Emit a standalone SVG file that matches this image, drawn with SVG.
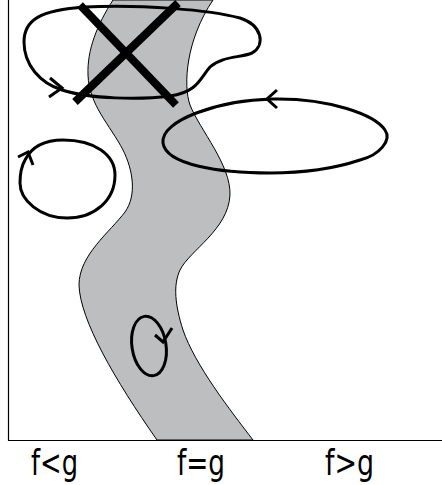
<svg xmlns="http://www.w3.org/2000/svg" width="442" height="485" viewBox="0 0 442 485">
<style>
.loop{fill:none;stroke:#000;stroke-width:3;stroke-linejoin:round;stroke-linecap:round}
.arr{fill:none;stroke:#000;stroke-width:3;stroke-linecap:butt}
.lbl{font-family:"DejaVu Sans","Liberation Sans",sans-serif;font-size:35px;fill:#000}
</style>
<rect width="442" height="485" fill="#fff"/>
<g id="band">
<path d="M113,0 C97,25 87,50 88,75 C89,105 110,125 123,150 C133,170 137,195 125,212 C110,232 79,255 79,285 C80,320 115,380 157,440 L253,440 C230,410 195,365 183,330 C175,305 173,285 180,270 C190,250 228,230 230,195 C231,165 200,130 190,105 C183,85 186,40 213,0 Z" fill="#bdbec0" stroke="#000" stroke-width="1"/>
</g>
<g id="axes" fill="none" stroke="#000" stroke-width="1.2">
<line x1="8.5" y1="0" x2="8.5" y2="440.5"/>
<line x1="8" y1="440.5" x2="442" y2="440.5"/>
</g>
<g id="connectors">
<g id="loop-top">
<path class="loop" d="M24,42 C24,20 40,10 85,7 C140,4 210,10 240,18 C262,25 266,45 252,53 C240,58 222,56 210,67 C200,78 198,92 170,96 C140,100 90,99 62,90 C40,83 24,65 24,42 Z"/>
<polyline class="arr" points="50,78 62,88 49,97"/>
</g>
<g id="loop-right">
<path class="loop" d="M163,143 C160,120 220,100 273,99 C330,98 375,115 385,130 C392,140 380,155 360,160 C330,170 300,173 270,173 C220,173 166,165 163,143 Z"/>
<polyline class="arr" points="277,90 267,99 277,108"/>
</g>
<g id="loop-left">
<path class="loop" d="M25,160 C32,146 45,140 63,140 C95,140 115,155 115,175 C115,200 95,218 67,218 C40,218 20,200 20,183 C20,174 21,167 25,160 Z"/>
<polyline class="arr" points="18,157 28,152 33,165"/>
</g>
<g id="loop-small">
<ellipse class="loop" cx="149" cy="346" rx="17" ry="30" transform="rotate(-9 149 346)"/>
<polyline class="arr" points="155,335 163,342 172,328"/>
</g>
</g>
<g id="cross" stroke="#000" stroke-width="8" stroke-linecap="butt">
<line x1="75" y1="102" x2="178" y2="3"/>
<line x1="80" y1="5" x2="176" y2="105"/>
</g>
<g id="labels">
<text class="lbl" x="31" y="475" textLength="47" lengthAdjust="spacingAndGlyphs">f&lt;g</text>
<text class="lbl" x="177" y="475" textLength="48" lengthAdjust="spacingAndGlyphs">f=g</text>
<text class="lbl" x="325" y="475" textLength="49" lengthAdjust="spacingAndGlyphs">f&gt;g</text>
</g>
</svg>
